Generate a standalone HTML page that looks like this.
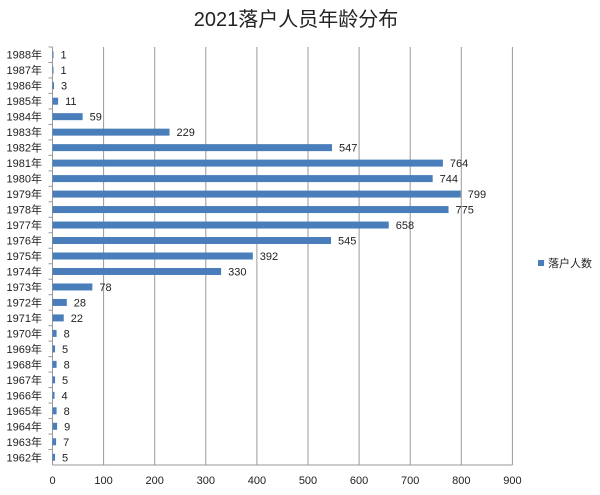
<!DOCTYPE html>
<html><head><meta charset="utf-8"><style>
body{margin:0;background:#fff;}
svg text{font-family:"Liberation Sans","Noto Sans CJK SC",sans-serif;}
</style></head><body>
<svg width="600" height="490" xmlns="http://www.w3.org/2000/svg">
<rect width="600" height="490" fill="#fff"/>
<text x="296" y="26" font-size="20" text-anchor="middle" fill="#222">2021落户人员年龄分布</text>
<rect x="538" y="260" width="6" height="6" fill="#4a7ebb"/>
<text x="548" y="267" font-size="11" fill="#222">落户人数</text>
</svg>
<script>
(function(){
const svg=document.querySelector('svg');
const ns="http://www.w3.org/2000/svg";
const x0=52.5,sc=51.1/100,yTop=47,yBot=465;
function el(t,a,txt){const e=document.createElementNS(ns,t);for(const k in a)e.setAttribute(k,a[k]);if(txt!==undefined)e.textContent=txt;svg.appendChild(e);return e;}
for(let i=0;i<=9;i++){const x=x0+i*100*sc;el('line',{x1:x,y1:yTop,x2:x,y2:yBot,stroke:'#999','stroke-width':1});
el('text',{x:x,y:484,'font-size':11,'text-anchor':'middle',fill:'#222'},String(i*100));}
el('line',{x1:x0,y1:yBot,x2:x0+900*sc,y2:yBot,stroke:'#999'});
const years=[1988,1987,1986,1985,1984,1983,1982,1981,1980,1979,1978,1977,1976,1975,1974,1973,1972,1971,1970,1969,1968,1967,1966,1965,1964,1963,1962];
const vals=[1,1,3,11,59,229,547,764,744,799,775,658,545,392,330,78,28,22,8,5,8,5,4,8,9,7,5];
const rh=(yBot-yTop)/27;
years.forEach((y,i)=>{const cy=yTop+rh*(i+0.5);
el('line',{x1:x0-4,y1:yTop+rh*i,x2:x0,y2:yTop+rh*i,stroke:'#999'});
el('text',{x:42,y:cy+4,'font-size':11,'text-anchor':'end',fill:'#222'},y+'年');
const w=Math.max(vals[i]*sc,1);
el('rect',{x:x0,y:cy-3.5,width:w,height:7,fill:'#4a7ebb'});
el('text',{x:x0+w+7,y:cy+4,'font-size':11,fill:'#222'},String(vals[i]));});
})();
</script>
</body></html>
